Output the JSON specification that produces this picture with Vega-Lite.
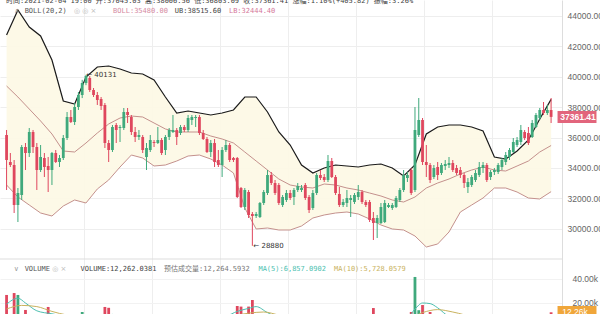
{
  "$schema": "https://vega.github.io/schema/vega-lite/v6.json",
  "width": 562,
  "height": 314,
  "autosize": {"type": "none"},
  "padding": {"left": 0, "top": 0, "right": 38, "bottom": 0},
  "background": "white",
  "config": {"view": {"stroke": null}},
  "datasets": {
    "k": [
      {"i":0,"o":36171,"h":36500,"l":32552,"c":34526,"v":26700},
      {"i":1,"o":34394,"h":34986,"l":34065,"c":34197,"v":9000},
      {"i":2,"o":34197,"h":34526,"l":31039,"c":31565,"v":28300},
      {"i":3,"o":31565,"h":32684,"l":30447,"c":32355,"v":26700},
      {"i":4,"o":32223,"h":35513,"l":31895,"c":35381,"v":10500},
      {"i":5,"o":35381,"h":35644,"l":33868,"c":34986,"v":14200},
      {"i":6,"o":34986,"h":36631,"l":34723,"c":36368,"v":8000},
      {"i":7,"o":36368,"h":36500,"l":34986,"c":35381,"v":7500},
      {"i":8,"o":35381,"h":35644,"l":32552,"c":33868,"v":9000},
      {"i":9,"o":33868,"h":35513,"l":33736,"c":34723,"v":6500},
      {"i":10,"o":34657,"h":34986,"l":33407,"c":34065,"v":7000},
      {"i":11,"o":34131,"h":34723,"l":32421,"c":33868,"v":16700},
      {"i":12,"o":33868,"h":35052,"l":32881,"c":34986,"v":8000},
      {"i":13,"o":34986,"h":35184,"l":34328,"c":34394,"v":7000},
      {"i":14,"o":34394,"h":34855,"l":34065,"c":34657,"v":5000},
      {"i":15,"o":34657,"h":36171,"l":34526,"c":35973,"v":6000},
      {"i":16,"o":35973,"h":37684,"l":35842,"c":37355,"v":8500},
      {"i":17,"o":37355,"h":37816,"l":36960,"c":37026,"v":9000},
      {"i":18,"o":37026,"h":38276,"l":36829,"c":38013,"v":6000},
      {"i":19,"o":38013,"h":38999,"l":37816,"c":38802,"v":7500},
      {"i":20,"o":38802,"h":39800,"l":38600,"c":39592,"v":12500},
      {"i":21,"o":39592,"h":40131,"l":39450,"c":40050,"v":9000},
      {"i":22,"o":39921,"h":40050,"l":39000,"c":39131,"v":8000},
      {"i":23,"o":39131,"h":39263,"l":38670,"c":38802,"v":6000},
      {"i":24,"o":38802,"h":39000,"l":38145,"c":38474,"v":5500},
      {"i":25,"o":38540,"h":38670,"l":37816,"c":38079,"v":7000},
      {"i":26,"o":38145,"h":38276,"l":35315,"c":35644,"v":16700},
      {"i":27,"o":35644,"h":35842,"l":34394,"c":35184,"v":16000},
      {"i":28,"o":35184,"h":36829,"l":35052,"c":36697,"v":8000},
      {"i":29,"o":36829,"h":36960,"l":35644,"c":36500,"v":6000},
      {"i":30,"o":36631,"h":36829,"l":35710,"c":36697,"v":5000},
      {"i":31,"o":36631,"h":37947,"l":36500,"c":37684,"v":7000},
      {"i":32,"o":37684,"h":37947,"l":36960,"c":37487,"v":6500},
      {"i":33,"o":37355,"h":37487,"l":36171,"c":36368,"v":7500},
      {"i":34,"o":36368,"h":36697,"l":35710,"c":36039,"v":6000},
      {"i":35,"o":36039,"h":36500,"l":35842,"c":36171,"v":4500},
      {"i":36,"o":36039,"h":36171,"l":34986,"c":35184,"v":8000},
      {"i":37,"o":34723,"h":35644,"l":33868,"c":35315,"v":7000},
      {"i":38,"o":35184,"h":36171,"l":35052,"c":35842,"v":6000},
      {"i":39,"o":35710,"h":35842,"l":35381,"c":35644,"v":4000},
      {"i":40,"o":35644,"h":36697,"l":35580,"c":35842,"v":5000},
      {"i":41,"o":35842,"h":35973,"l":34855,"c":34986,"v":7000},
      {"i":42,"o":35184,"h":36171,"l":34855,"c":36039,"v":6500},
      {"i":43,"o":36039,"h":36631,"l":35842,"c":36500,"v":5500},
      {"i":44,"o":36368,"h":37487,"l":36302,"c":36500,"v":6000},
      {"i":45,"o":36500,"h":36631,"l":35513,"c":36039,"v":5000},
      {"i":46,"o":36302,"h":36829,"l":36171,"c":36697,"v":4500},
      {"i":47,"o":36697,"h":36829,"l":36368,"c":36500,"v":4000},
      {"i":48,"o":36500,"h":37487,"l":36368,"c":37289,"v":6000},
      {"i":49,"o":37158,"h":37487,"l":36829,"c":37355,"v":5000},
      {"i":50,"o":37289,"h":37487,"l":36697,"c":37355,"v":4500},
      {"i":51,"o":37355,"h":37487,"l":36171,"c":36302,"v":8000},
      {"i":52,"o":36302,"h":36500,"l":35842,"c":35907,"v":6000},
      {"i":53,"o":35907,"h":36039,"l":34986,"c":35052,"v":8500},
      {"i":54,"o":35052,"h":35842,"l":34723,"c":35644,"v":7000},
      {"i":55,"o":35644,"h":35907,"l":34065,"c":34394,"v":9500},
      {"i":56,"o":34526,"h":35184,"l":34065,"c":34197,"v":6000},
      {"i":57,"o":34197,"h":35381,"l":33407,"c":35184,"v":8000},
      {"i":58,"o":35184,"h":35842,"l":35052,"c":35513,"v":5500},
      {"i":59,"o":35513,"h":35644,"l":34394,"c":34526,"v":7000},
      {"i":60,"o":34657,"h":34723,"l":34394,"c":34526,"v":10000},
      {"i":61,"o":34657,"h":34723,"l":32026,"c":32092,"v":17500},
      {"i":62,"o":32684,"h":32749,"l":31368,"c":31434,"v":17000},
      {"i":63,"o":31434,"h":32684,"l":31237,"c":32552,"v":9000},
      {"i":64,"o":32421,"h":32552,"l":30710,"c":30908,"v":17000},
      {"i":65,"o":30974,"h":31105,"l":28880,"c":30842,"v":22500},
      {"i":66,"o":30842,"h":31105,"l":30710,"c":30974,"v":9000},
      {"i":67,"o":30776,"h":31763,"l":30710,"c":31697,"v":8500},
      {"i":68,"o":31697,"h":32552,"l":31565,"c":32421,"v":7500},
      {"i":69,"o":32355,"h":33868,"l":32223,"c":33539,"v":10000},
      {"i":70,"o":33539,"h":33736,"l":32881,"c":33012,"v":7000},
      {"i":71,"o":33012,"h":33210,"l":32223,"c":32355,"v":6000},
      {"i":72,"o":32881,"h":33012,"l":31565,"c":31697,"v":7500},
      {"i":73,"o":31565,"h":32223,"l":31434,"c":32092,"v":6000},
      {"i":74,"o":31895,"h":32552,"l":31763,"c":32355,"v":5000},
      {"i":75,"o":32355,"h":32552,"l":31895,"c":32026,"v":4500},
      {"i":76,"o":32092,"h":32684,"l":31565,"c":32552,"v":5000},
      {"i":77,"o":32552,"h":33012,"l":32421,"c":32815,"v":4500},
      {"i":78,"o":32552,"h":32881,"l":32421,"c":32684,"v":3500},
      {"i":79,"o":32881,"h":33012,"l":31895,"c":32026,"v":5500},
      {"i":80,"o":32092,"h":32223,"l":31039,"c":31237,"v":7000},
      {"i":81,"o":31368,"h":32552,"l":31237,"c":32355,"v":6000},
      {"i":82,"o":32355,"h":33670,"l":32223,"c":33539,"v":8500},
      {"i":83,"o":33539,"h":33868,"l":33210,"c":33341,"v":5000},
      {"i":84,"o":33407,"h":33605,"l":33078,"c":33210,"v":4000},
      {"i":85,"o":33210,"h":34855,"l":33078,"c":34460,"v":9000},
      {"i":86,"o":34460,"h":34657,"l":33341,"c":33407,"v":8000},
      {"i":87,"o":33407,"h":33539,"l":32223,"c":32355,"v":8500},
      {"i":88,"o":32289,"h":32749,"l":31434,"c":31565,"v":7500},
      {"i":89,"o":31565,"h":31961,"l":31434,"c":31763,"v":4500},
      {"i":90,"o":31697,"h":32552,"l":31434,"c":32026,"v":5000},
      {"i":91,"o":31895,"h":32223,"l":30776,"c":32026,"v":6000},
      {"i":92,"o":31763,"h":32355,"l":31631,"c":32223,"v":4000},
      {"i":93,"o":32092,"h":32881,"l":31895,"c":32421,"v":5000},
      {"i":94,"o":32421,"h":32552,"l":31631,"c":31763,"v":5500},
      {"i":95,"o":31763,"h":31895,"l":31434,"c":31565,"v":4000},
      {"i":96,"o":31763,"h":31895,"l":30447,"c":30579,"v":9500},
      {"i":97,"o":30710,"h":31105,"l":29263,"c":30381,"v":15800},
      {"i":98,"o":30381,"h":30908,"l":29394,"c":30710,"v":9000},
      {"i":99,"o":30381,"h":31697,"l":30315,"c":31434,"v":7500},
      {"i":100,"o":30447,"h":31895,"l":30381,"c":31697,"v":7000},
      {"i":101,"o":31434,"h":31697,"l":31368,"c":31565,"v":4000},
      {"i":102,"o":31368,"h":31697,"l":31237,"c":31565,"v":4500},
      {"i":103,"o":31434,"h":32158,"l":31368,"c":32026,"v":5500},
      {"i":104,"o":31895,"h":32684,"l":31763,"c":32552,"v":6500},
      {"i":105,"o":32552,"h":33868,"l":32421,"c":33539,"v":8000},
      {"i":106,"o":33341,"h":33736,"l":33078,"c":33539,"v":5000},
      {"i":107,"o":33868,"h":33999,"l":32223,"c":32355,"v":12500},
      {"i":108,"o":32552,"h":38013,"l":32421,"c":36500,"v":41700},
      {"i":109,"o":36171,"h":38605,"l":36039,"c":37158,"v":14000},
      {"i":110,"o":37158,"h":37289,"l":34197,"c":34394,"v":18300},
      {"i":111,"o":34394,"h":35513,"l":33407,"c":34197,"v":10000},
      {"i":112,"o":34197,"h":34328,"l":33012,"c":33210,"v":12500},
      {"i":113,"o":33407,"h":34197,"l":33275,"c":33999,"v":7000},
      {"i":114,"o":34065,"h":34394,"l":33210,"c":33539,"v":6500},
      {"i":115,"o":33670,"h":34328,"l":33539,"c":34197,"v":5000},
      {"i":116,"o":34131,"h":34526,"l":33868,"c":34263,"v":4000},
      {"i":117,"o":34197,"h":34723,"l":33999,"c":34328,"v":4500},
      {"i":118,"o":34328,"h":34526,"l":33736,"c":33868,"v":5000},
      {"i":119,"o":33999,"h":34197,"l":33539,"c":33670,"v":4000},
      {"i":120,"o":33868,"h":34065,"l":33341,"c":33539,"v":4500},
      {"i":121,"o":33539,"h":33670,"l":32684,"c":33012,"v":6500},
      {"i":122,"o":32749,"h":33341,"l":32355,"c":33078,"v":6000},
      {"i":123,"o":32881,"h":33539,"l":32749,"c":33407,"v":5000},
      {"i":124,"o":33210,"h":33868,"l":33078,"c":33670,"v":4500},
      {"i":125,"o":33539,"h":34394,"l":33407,"c":34065,"v":6000},
      {"i":126,"o":33999,"h":34394,"l":33670,"c":34197,"v":5000},
      {"i":127,"o":34197,"h":34328,"l":33078,"c":33210,"v":6500},
      {"i":128,"o":33407,"h":33868,"l":33210,"c":33736,"v":4500},
      {"i":129,"o":33736,"h":33999,"l":33539,"c":33868,"v":3500},
      {"i":130,"o":33736,"h":34328,"l":33605,"c":34197,"v":4500},
      {"i":131,"o":34065,"h":34657,"l":33868,"c":34526,"v":5000},
      {"i":132,"o":34394,"h":35052,"l":34197,"c":34855,"v":5500},
      {"i":133,"o":34723,"h":35315,"l":34526,"c":35184,"v":5000},
      {"i":134,"o":35052,"h":35973,"l":34986,"c":35710,"v":6500},
      {"i":135,"o":35513,"h":36039,"l":35381,"c":35842,"v":4500},
      {"i":136,"o":35710,"h":36829,"l":35513,"c":36500,"v":6000},
      {"i":137,"o":36368,"h":36500,"l":35842,"c":35973,"v":4000},
      {"i":138,"o":36302,"h":36697,"l":35513,"c":35644,"v":4500},
      {"i":139,"o":36039,"h":37158,"l":35973,"c":36960,"v":4000},
      {"i":140,"o":36697,"h":37618,"l":36631,"c":37487,"v":5200},
      {"i":141,"o":37289,"h":37947,"l":37158,"c":37816,"v":6100},
      {"i":142,"o":37816,"h":38342,"l":37487,"c":37618,"v":5400},
      {"i":143,"o":37618,"h":38145,"l":37487,"c":37816,"v":5300},
      {"i":144,"o":37816,"h":38605,"l":36960,"c":37361.41,"v":12262.0381}
    ],
    "boll": [
      {"i":0,"ub":42750,"mid":39395,"lb":32881},
      {"i":3,"ub":44395,"mid":38671,"lb":32092},
      {"i":6,"ub":43276,"mid":37881,"lb":31565},
      {"i":9,"ub":42684,"mid":37092,"lb":31039},
      {"i":12,"ub":41105,"mid":36237,"lb":30842},
      {"i":15,"ub":38408,"mid":35118,"lb":31500},
      {"i":18,"ub":38210,"mid":35052,"lb":31895},
      {"i":21,"ub":39987,"mid":35644,"lb":31697},
      {"i":24,"ub":40645,"mid":36302,"lb":32618},
      {"i":27,"ub":40710,"mid":36895,"lb":33210},
      {"i":30,"ub":40513,"mid":37289,"lb":34065},
      {"i":33,"ub":40250,"mid":37421,"lb":34855},
      {"i":36,"ub":40184,"mid":37355,"lb":34657},
      {"i":39,"ub":39789,"mid":36960,"lb":34131},
      {"i":42,"ub":38671,"mid":36566,"lb":34197},
      {"i":45,"ub":37618,"mid":36368,"lb":34460},
      {"i":48,"ub":37750,"mid":36368,"lb":34789},
      {"i":51,"ub":37618,"mid":36368,"lb":34855},
      {"i":54,"ub":37487,"mid":36105,"lb":34592},
      {"i":57,"ub":37618,"mid":35908,"lb":34197},
      {"i":60,"ub":37816,"mid":35644,"lb":33670},
      {"i":63,"ub":38671,"mid":35052,"lb":31368},
      {"i":66,"ub":38671,"mid":34460,"lb":29987},
      {"i":69,"ub":37684,"mid":33868,"lb":30052},
      {"i":72,"ub":36368,"mid":33276,"lb":29921},
      {"i":75,"ub":35513,"mid":32881,"lb":29921},
      {"i":78,"ub":34197,"mid":32749,"lb":30184},
      {"i":81,"ub":33670,"mid":32684,"lb":30710},
      {"i":84,"ub":33999,"mid":32947,"lb":30908},
      {"i":87,"ub":34197,"mid":32881,"lb":31039},
      {"i":90,"ub":34131,"mid":32684,"lb":31105},
      {"i":93,"ub":34065,"mid":32552,"lb":30974},
      {"i":96,"ub":34197,"mid":32355,"lb":30645},
      {"i":99,"ub":34263,"mid":32158,"lb":30250},
      {"i":102,"ub":33999,"mid":31895,"lb":29987},
      {"i":105,"ub":33473,"mid":31763,"lb":29921},
      {"i":108,"ub":34197,"mid":32092,"lb":29526},
      {"i":111,"ub":36237,"mid":32684,"lb":28802},
      {"i":114,"ub":36697,"mid":33013,"lb":29000},
      {"i":117,"ub":36829,"mid":33276,"lb":29790},
      {"i":120,"ub":36829,"mid":33605,"lb":31105},
      {"i":123,"ub":36697,"mid":33868,"lb":31565},
      {"i":126,"ub":36434,"mid":34065,"lb":32026},
      {"i":129,"ub":34723,"mid":33868,"lb":32684},
      {"i":132,"ub":34592,"mid":33802,"lb":32684},
      {"i":135,"ub":35118,"mid":34131,"lb":32421},
      {"i":138,"ub":35842,"mid":34460,"lb":32026},
      {"i":141,"ub":37224,"mid":35052,"lb":31961},
      {"i":144,"ub":38515.6,"mid":35480,"lb":32444.4}
    ],
    "ma5": [
      {"i":0,"m":19000},{"i":3,"m":24000},{"i":5,"m":20000},{"i":8,"m":13500},
      {"i":12,"m":11000},{"i":16,"m":9000},{"i":20,"m":9500},{"i":24,"m":8500},
      {"i":28,"m":10500},{"i":30,"m":8000},{"i":36,"m":6500},{"i":44,"m":6000},
      {"i":52,"m":6500},{"i":58,"m":9000},{"i":61,"m":13000},{"i":64,"m":15500},
      {"i":66,"m":17000},{"i":69,"m":12000},{"i":72,"m":8000},{"i":78,"m":6500},
      {"i":86,"m":6500},{"i":94,"m":7000},{"i":98,"m":9500},{"i":102,"m":7000},
      {"i":106,"m":8000},{"i":108,"m":15000},{"i":110,"m":20000},{"i":112,"m":19500},
      {"i":114,"m":16000},{"i":117,"m":9000},{"i":122,"m":6500},{"i":130,"m":6000},
      {"i":138,"m":5500},{"i":144,"m":6857.0902}
    ],
    "ma10": [
      {"i":0,"m":15000},{"i":4,"m":18000},{"i":8,"m":17000},{"i":12,"m":13000},
      {"i":16,"m":10000},{"i":22,"m":8500},{"i":28,"m":9500},{"i":34,"m":8000},
      {"i":44,"m":6500},{"i":54,"m":7000},{"i":60,"m":9500},{"i":64,"m":11500},
      {"i":68,"m":12500},{"i":72,"m":10000},{"i":78,"m":7000},{"i":90,"m":6500},
      {"i":100,"m":7500},{"i":106,"m":7000},{"i":110,"m":12000},{"i":114,"m":14500},
      {"i":118,"m":12500},{"i":124,"m":8000},{"i":132,"m":6000},{"i":144,"m":5728.0579}
    ]
  },
  "resolve": {"scale": {"y": "independent"}},
  "layer": [
    {
      "layer": [
        {
          "data": {"name": "boll"},
          "mark": {"type": "area", "color": "#fdf8e4", "opacity": 0.9},
          "encoding": {
            "x": {"field": "i", "type": "quantitative", "title": null,
              "scale": {"domain": [-0.4156, 145.558], "nice": false, "zero": false},
              "axis": {"orient": "bottom", "values": [20.36, 38.36, 56.36, 74.36, 92.36, 110.36, 128.36],
                "grid": true, "gridColor": "#eeeeee", "labels": false, "ticks": false, "domain": false}},
            "y": {"field": "lb", "type": "quantitative", "title": null,
              "scale": {"domain": [24394.7, 45052.6], "nice": false, "zero": false},
              "axis": {"orient": "right", "values": [30000, 32000, 34000, 36000, 38000, 40000, 42000, 44000],
                "format": ".2f", "grid": true, "gridColor": "#eeeeee", "ticks": false,
                "domain": true, "domainColor": "#dddddd", "labelFont": "Liberation Sans",
                "labelFontSize": 8.5, "labelColor": "#666666", "labelPadding": 5}},
            "y2": {"field": "ub"}
          }
        },
        {
          "data": {"name": "boll"},
          "mark": {"type": "line", "color": "#c4918d", "strokeWidth": 1},
          "encoding": {
            "x": {"field": "i", "type": "quantitative", "title": null},
            "y": {"field": "mid", "type": "quantitative", "title": null}
          }
        },
        {
          "data": {"name": "boll"},
          "mark": {"type": "line", "color": "#c4918d", "strokeWidth": 1},
          "encoding": {
            "x": {"field": "i", "type": "quantitative", "title": null},
            "y": {"field": "lb", "type": "quantitative", "title": null}
          }
        },
        {
          "data": {"name": "boll"},
          "mark": {"type": "line", "color": "#1a1a1a", "strokeWidth": 1.2},
          "encoding": {
            "x": {"field": "i", "type": "quantitative", "title": null},
            "y": {"field": "ub", "type": "quantitative", "title": null}
          }
        },
        {
          "data": {"name": "k"},
          "mark": {"type": "rule", "strokeWidth": 1},
          "encoding": {
            "x": {"field": "i", "type": "quantitative", "title": null},
            "y": {"field": "l", "type": "quantitative", "title": null},
            "y2": {"field": "h"},
            "color": {"condition": {"test": "datum.c >= datum.o", "value": "#3fa97c"}, "value": "#df475e"}
          }
        },
        {
          "data": {"name": "k"},
          "mark": {"type": "bar", "size": 2.8},
          "encoding": {
            "x": {"field": "i", "type": "quantitative", "title": null},
            "y": {"field": "o", "type": "quantitative", "title": null},
            "y2": {"field": "c"},
            "color": {"condition": {"test": "datum.c >= datum.o", "value": "#3fa97c"}, "value": "#df475e"}
          }
        },
        {
          "data": {"values": [{}]},
          "mark": {"type": "rule", "color": "#dddddd", "strokeWidth": 1},
          "encoding": {"y": {"datum": 28013, "type": "quantitative"}}
        },
        {
          "data": {"values": [{}]},
          "mark": {"type": "text", "align": "left", "baseline": "middle", "font": "DejaVu Sans", "fontSize": 7, "color": "#333333", "dx": 1, "text": "← 40131"},
          "encoding": {"x": {"datum": 20.8, "type": "quantitative"}, "y": {"datum": 40131, "type": "quantitative"}}
        },
        {
          "data": {"values": [{}]},
          "mark": {"type": "text", "align": "left", "baseline": "middle", "font": "DejaVu Sans", "fontSize": 7, "color": "#333333", "dx": 1, "text": "← 28880"},
          "encoding": {"x": {"datum": 65, "type": "quantitative"}, "y": {"datum": 28880, "type": "quantitative"}}
        },
        {
          "data": {"values": [{}]},
          "mark": {"type": "rect", "color": "#e2657c"},
          "encoding": {
            "x": {"datum": 145.7, "type": "quantitative"}, "x2": {"datum": 156},
            "y": {"datum": 37756, "type": "quantitative"}, "y2": {"datum": 36966}
          }
        },
        {
          "data": {"values": [{}]},
          "mark": {"type": "text", "align": "left", "baseline": "middle", "font": "Liberation Sans", "fontSize": 8.5, "fontWeight": "bold", "color": "white", "dx": 2, "text": "37361.41"},
          "encoding": {"x": {"datum": 145.9, "type": "quantitative"}, "y": {"datum": 37361.41, "type": "quantitative"}}
        },
        {
          "data": {"values": [{}]},
          "mark": {"type": "text", "align": "left", "baseline": "alphabetic", "font": "DejaVu Sans Mono, Noto Sans CJK SC", "fontSize": 7, "color": "#444444",
            "text": "时间:2021-02-04 19:00  开:37045.03  高:38006.56  低:36803.09  收:37361.41  涨幅:1.10%(+405.82)  振幅:3.26%"},
          "encoding": {"x": {"datum": -0.15, "type": "quantitative"}, "y": {"datum": 44888, "type": "quantitative"}}
        },
        {
          "data": {"values": [{}]},
          "mark": {"type": "text", "align": "left", "baseline": "middle", "font": "DejaVu Sans", "fontSize": 7, "color": "#999999", "text": "∧"},
          "encoding": {"x": {"datum": 2.0, "type": "quantitative"}, "y": {"datum": 44329, "type": "quantitative"}}
        },
        {
          "data": {"values": [{}]},
          "mark": {"type": "text", "align": "left", "baseline": "middle", "font": "DejaVu Sans Mono", "fontSize": 7, "color": "#555555", "text": "BOLL(20,2)"},
          "encoding": {"x": {"datum": 4.78, "type": "quantitative"}, "y": {"datum": 44329, "type": "quantitative"}}
        },
        {
          "data": {"values": [{}]},
          "mark": {"type": "text", "align": "left", "baseline": "middle", "font": "DejaVu Sans", "fontSize": 7, "color": "#bbbbbb", "text": "◎ ◎ ×"},
          "encoding": {"x": {"datum": 17.8, "type": "quantitative"}, "y": {"datum": 44329, "type": "quantitative"}}
        },
        {
          "data": {"values": [{}]},
          "mark": {"type": "text", "align": "left", "baseline": "middle", "font": "DejaVu Sans Mono", "fontSize": 7, "color": "#d58aa2", "text": "BOLL:35480.00"},
          "encoding": {"x": {"datum": 28.16, "type": "quantitative"}, "y": {"datum": 44329, "type": "quantitative"}}
        },
        {
          "data": {"values": [{}]},
          "mark": {"type": "text", "align": "left", "baseline": "middle", "font": "DejaVu Sans Mono", "fontSize": 7, "color": "#444444", "text": "UB:38515.60"},
          "encoding": {"x": {"datum": 44.5, "type": "quantitative"}, "y": {"datum": 44329, "type": "quantitative"}}
        },
        {
          "data": {"values": [{}]},
          "mark": {"type": "text", "align": "left", "baseline": "middle", "font": "DejaVu Sans Mono", "fontSize": 7, "color": "#d5789a", "text": "LB:32444.40"},
          "encoding": {"x": {"datum": 58.8, "type": "quantitative"}, "y": {"datum": 44329, "type": "quantitative"}}
        },
        {
          "data": {"values": [{}]},
          "mark": {"type": "text", "align": "left", "baseline": "middle", "font": "DejaVu Sans", "fontSize": 7, "color": "#999999", "text": "∨"},
          "encoding": {"x": {"datum": 1.92, "type": "quantitative"}, "y": {"datum": 27355, "type": "quantitative"}}
        },
        {
          "data": {"values": [{}]},
          "mark": {"type": "text", "align": "left", "baseline": "middle", "font": "DejaVu Sans Mono", "fontSize": 7, "color": "#555555", "text": "VOLUME"},
          "encoding": {"x": {"datum": 4.78, "type": "quantitative"}, "y": {"datum": 27355, "type": "quantitative"}}
        },
        {
          "data": {"values": [{}]},
          "mark": {"type": "text", "align": "left", "baseline": "middle", "font": "DejaVu Sans", "fontSize": 7, "color": "#bbbbbb", "text": "◎ ×"},
          "encoding": {"x": {"datum": 12.05, "type": "quantitative"}, "y": {"datum": 27355, "type": "quantitative"}}
        },
        {
          "data": {"values": [{}]},
          "mark": {"type": "text", "align": "left", "baseline": "middle", "font": "DejaVu Sans Mono", "fontSize": 7, "color": "#444444", "text": "VOLUME:12,262.0381"},
          "encoding": {"x": {"datum": 19.58, "type": "quantitative"}, "y": {"datum": 27355, "type": "quantitative"}}
        },
        {
          "data": {"values": [{}]},
          "mark": {"type": "text", "align": "left", "baseline": "middle", "font": "DejaVu Sans Mono, Noto Sans CJK SC", "fontSize": 7, "color": "#777777", "text": "预估成交量:12,264.5932"},
          "encoding": {"x": {"datum": 41.66, "type": "quantitative"}, "y": {"datum": 27355, "type": "quantitative"}}
        },
        {
          "data": {"values": [{}]},
          "mark": {"type": "text", "align": "left", "baseline": "middle", "font": "DejaVu Sans Mono", "fontSize": 7, "color": "#4dbfb0", "text": "MA(5):6,857.0902"},
          "encoding": {"x": {"datum": 66.6, "type": "quantitative"}, "y": {"datum": 27355, "type": "quantitative"}}
        },
        {
          "data": {"values": [{}]},
          "mark": {"type": "text", "align": "left", "baseline": "middle", "font": "DejaVu Sans Mono", "fontSize": 7, "color": "#c9b25e", "text": "MA(10):5,728.0579"},
          "encoding": {"x": {"datum": 86.6, "type": "quantitative"}, "y": {"datum": 27355, "type": "quantitative"}}
        }
      ]
    },
    {
      "layer": [
        {
          "data": {"name": "k"},
          "mark": {"type": "bar", "size": 2.8, "clip": true},
          "encoding": {
            "x": {"field": "i", "type": "quantitative", "title": null,
              "scale": {"domain": [-0.4156, 145.558], "nice": false, "zero": false}},
            "y": {"field": "v", "type": "quantitative", "title": null,
              "scale": {"domain": [10833, 272500], "nice": false, "zero": false},
              "axis": {"orient": "right", "values": [20000, 40000],
                "labelExpr": "format(datum.value / 1000, '.2f') + 'k'",
                "grid": true, "gridColor": "#f2f2f2", "ticks": false, "domain": false,
                "labelFont": "Liberation Sans", "labelFontSize": 8.5, "labelColor": "#666666", "labelPadding": 10}},
            "y2": {"datum": 0},
            "color": {"condition": {"test": "datum.c >= datum.o", "value": "#3fa97c"}, "value": "#df475e"}
          }
        },
        {
          "data": {"name": "ma5"},
          "mark": {"type": "line", "color": "#4dbfb0", "strokeWidth": 1, "clip": true, "interpolate": "monotone"},
          "encoding": {
            "x": {"field": "i", "type": "quantitative", "title": null},
            "y": {"field": "m", "type": "quantitative", "title": null}
          }
        },
        {
          "data": {"name": "ma10"},
          "mark": {"type": "line", "color": "#c9b25e", "strokeWidth": 1, "clip": true, "interpolate": "monotone"},
          "encoding": {
            "x": {"field": "i", "type": "quantitative", "title": null},
            "y": {"field": "m", "type": "quantitative", "title": null}
          }
        },
        {
          "data": {"values": [{}]},
          "mark": {"type": "rect", "color": "#f0a63a"},
          "encoding": {
            "x": {"datum": 145.7, "type": "quantitative"}, "x2": {"datum": 156},
            "y": {"datum": 17500, "type": "quantitative"}, "y2": {"datum": 7500}
          }
        },
        {
          "data": {"values": [{}]},
          "mark": {"type": "text", "align": "left", "baseline": "middle", "font": "Liberation Sans", "fontSize": 8.5, "color": "white", "dx": 4, "text": "12.26k"},
          "encoding": {"x": {"datum": 145.9, "type": "quantitative"}, "y": {"datum": 12262, "type": "quantitative"}}
        }
      ]
    }
  ]
}
